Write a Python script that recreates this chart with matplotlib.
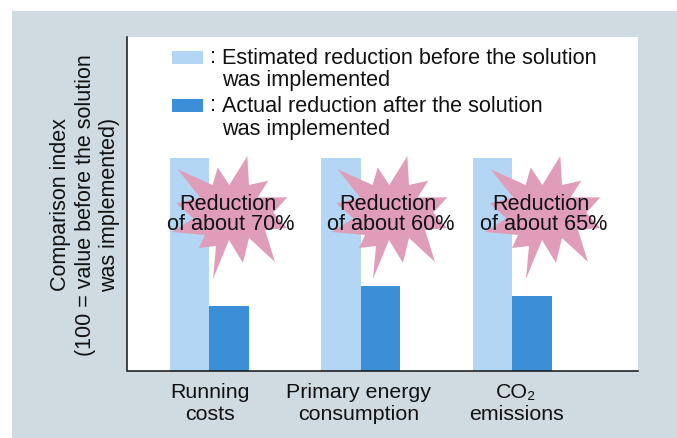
import matplotlib
matplotlib.use("Agg")
import matplotlib.pyplot as plt
from matplotlib.patches import Polygon, Rectangle
from matplotlib.transforms import Affine2D
import numpy as np

categories = ["Running\ncosts", "Primary energy\nconsumption", "CO\u2082\nemissions"]
estimated = [100, 100, 100]
actual = [30.5, 40, 35]
callouts = ["Reduction\nof about 70%", "Reduction\nof about 60%", "Reduction\nof about 65%"]
legend_labels = ["Estimated reduction before the solution\nwas implemented",
                 "Actual reduction after the solution\nwas implemented"]
ylabel = "Comparison index\n(100 = value before the solution\nwas implemented)"

C_PANEL, C_EST, C_ACT, C_STAR = "#CFDBE1", "#B3D6F4", "#3B8FD6", "#E09DBA"
W, H = 677, 438
plt.rcParams["font.family"] = ["Liberation Sans", "DejaVu Sans"]
FS = 15.6
LS = 1.1

fig = plt.figure(figsize=(W / 100, H / 100), dpi=100, facecolor="white")
def fx(x): return x / W
def fy(y): return 1 - y / H
fig.add_artist(Rectangle((fx(12), 0), 1 - fx(12), fy(11), transform=fig.transFigure,
                         facecolor=C_PANEL, edgecolor="none", zorder=-5))

ax = fig.add_axes([fx(127.5), fy(371), (638 - 127.5) / W, (371 - 37) / H])
ax.patch.set_facecolor("white")
spacing = 151.4
ax.set_xlim((127.5 - 209.3) / spacing, (638 - 209.3) / spacing)
ax.set_ylim(0, 100 * 334 / 213)
x = np.arange(len(categories))
bw = 39.6 / spacing
ax.bar(x - bw / 2, estimated, bw, color=C_EST, zorder=1)
ax.bar(x + bw / 2, actual, bw, color=C_ACT, zorder=1)
for s in ("top", "right"):
    ax.spines[s].set_visible(False)
for s in ("left", "bottom"):
    ax.spines[s].set_linewidth(1.1)
    ax.spines[s].set_color("#111111")
ax.set_yticks([])
ax.set_xticks([])

# starburst outline, in pixels around its centre
star = np.array([(247,18),(252,105),(310,92),(278,142),(367,142),(325,188),(366,234),
                 (300,240),(330,336),(252,264),(234,339),(192,270),(144,387),(153,288),
                 (102,294),(120,255),(21,246),(85,205),(35,160),(105,142),(38,58),
                 (143,105),(158,52),(193,105)], float) / 3
star -= np.array([195, 195]) / 3
centers_px = [(165 + 65, 150 + 65), (165 + 225, 150 + 65), (165 + 378, 150 + 65)]
for (cx, cy), label in zip(centers_px, callouts):
    t = Affine2D().scale(1, -1).translate(cx, H - cy)
    fig.add_artist(Polygon(star, closed=True, facecolor=C_STAR, edgecolor="none",
                           transform=t, zorder=3))
    first, second = label.split("\n")
    fig.text(fx(cx - 2), fy(cy - 11), first, ha="center", va="center", fontsize=FS,
             color="#111111", zorder=4)
    fig.text(fx(cx + 0.5), fy(cy + 9.5), second, ha="center", va="center", fontsize=FS,
             color="#111111", zorder=4)

# legend
for y0, color, label in zip((50.5, 99), (C_EST, C_ACT), legend_labels):
    fig.add_artist(Rectangle((fx(172), fy(y0 + 13)), 31 / W, 13 / H, transform=fig.transFigure,
                             facecolor=color, edgecolor="none", zorder=3))
    fig.text(fx(210.5), fy(y0 + 7), ":", ha="left", va="center", fontsize=FS, color="#111111", zorder=4)
    fig.text(fx(222), fy(y0 + 19), label, ha="left", va="center", fontsize=FS,
             linespacing=LS, color="#111111", zorder=4)

for cx, label in zip((210.5, 359, 516.5), categories):
    fig.text(fx(cx), fy(403.5), label, ha="center", va="center", fontsize=15.4,
             linespacing=1.15, color="#111111")

fig.text(fx(85), fy(205), ylabel, rotation=90, ha="center", va="center", fontsize=15.5,
         linespacing=1.22, color="#111111", multialignment="center")

fig.savefig("out.png", dpi=100)
